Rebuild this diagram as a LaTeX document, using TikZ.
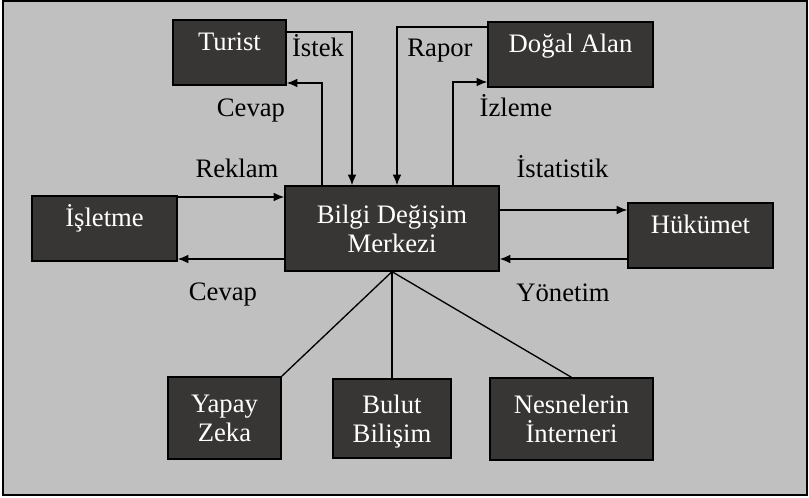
\documentclass[tikz,border=0pt]{standalone}
\usepackage{fontspec}
\setmainfont{Liberation Serif}
\usetikzlibrary{arrows.meta, positioning}
\definecolor{panelgray}{RGB}{192,192,192}
\definecolor{boxgray}{RGB}{56,54,53}
\tikzstyle{block} = [rectangle, 
			draw, 
			line width = 1pt,
			fill = boxgray,
			text = white,
			text centered, 
			font = \fontsize{20}{21.5}\selectfont]
\tikzstyle{oneline} = [block, 
			text height = 14pt, 
			text depth = 17pt]
\tikzstyle{twoline} = [block, 
			align = center,
			text depth = 0pt]
\tikzstyle{tag} = [anchor = base, 
			font = \fontsize{20}{21.5}\selectfont]
\tikzstyle{line} = [draw, line width = 1pt, -{Latex[length = 8pt, width = 6.5pt]}]
\tikzstyle{link} = [draw, line width = 1pt]

\begin{document}
\begin{tikzpicture}[x = 0.75pt, y = -0.75pt]
	\useasboundingbox (0,0) rectangle (809,498);
	\draw [fill = panelgray, line width = 1.5pt] (2.5,1) rectangle (807,495);
	\node [oneline, minimum width = 84.75pt, minimum height = 48.75pt] (turist) at (229.5,52.5) {Turist};
	\node [oneline, minimum width = 123.75pt, minimum height = 48.75pt] (dogal) at (570.5,54.5) {Doğal Alan};
	\node [twoline, minimum width = 160.5pt, minimum height = 63.75pt] (merkez) at (392,228.5) {Bilgi Değişim\\Merkezi};
	\node [oneline, minimum width = 108.75pt, minimum height = 48.75pt] (isletme) at (104.5,228.5) {İşletme};
	\node [oneline, minimum width = 108.75pt, minimum height = 48.75pt] (hukumet) at (700.5,235.5) {Hükümet};
	\node [twoline, minimum width = 84.75pt, minimum height = 61.5pt] (yapay) at (224.5,418) {Yapay\\Zeka};
	\node [twoline, minimum width = 88.5pt, minimum height = 59.25pt] (bulut) at (392,418.5) {Bulut\\Bilişim};
	\node [twoline, minimum width = 122.25pt, minimum height = 61.5pt] (nesne) at (571.5,419) {Nesnelerin\\İnterneri};
	\path [line] (322,0 |- merkez.north) |- (turist.east |- 0,83);
	\path [line] (turist.east |- 0,32) -| (352,0 |- merkez.north);
	\path [line] (dogal.west |- 0,27) -| (397,0 |- merkez.north);
	\path [line] (453,0 |- merkez.north) |- (dogal.west |- 0,82);
	\path [line] (isletme.east |- 0,197) -- (merkez.west |- 0,197);
	\path [line] (merkez.west |- 0,259) -- (isletme.east |- 0,259);
	\path [line] (merkez.east |- 0,210) -- (hukumet.west |- 0,210);
	\path [line] (hukumet.west |- 0,259) -- (merkez.east |- 0,259);
	\path [link] (merkez.south) -- (yapay.north east);
	\path [link] (merkez.south) -- (bulut.north);
	\path [link] (merkez.south) -- (nesne.north);
	\node [tag] (istek) at (318,57) {İstek};
	\node [tag] (rapor) at (440,57) {Rapor};
	\node [tag] (cevapust) at (251,117) {Cevap};
	\node [tag] (izleme) at (516,117) {İzleme};
	\node [tag] (reklam) at (237,178) {Reklam};
	\node [tag] (istatistik) at (562.5,178) {İstatistik};
	\node [tag] (cevapalt) at (223,301) {Cevap};
	\node [tag] (yonetim) at (563,302) {Yönetim};
\end{tikzpicture}
\end{document}
